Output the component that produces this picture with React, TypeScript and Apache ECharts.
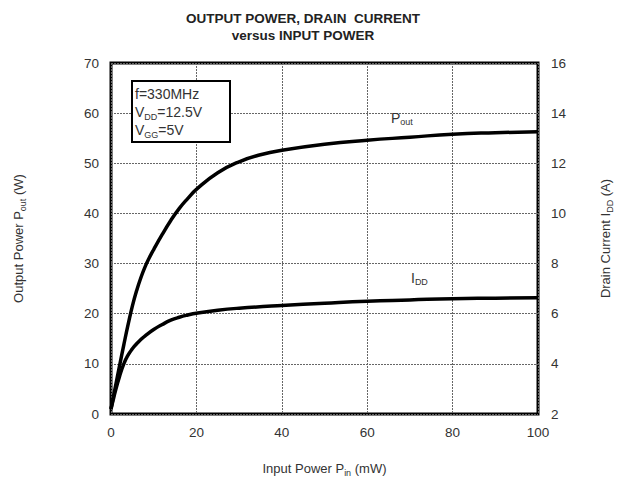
import React, { useEffect, useRef } from "react";
import * as echarts from "echarts";

const pinMW = [0, 1, 2, 3, 4, 5, 6, 7, 8, 9, 10, 12, 14, 16, 18, 20, 25, 30, 35, 40, 50, 60, 70, 80, 90, 100];
const poutW = [1, 5.3, 9.6, 13.8, 17.8, 21.5, 24.6, 27.2, 29.4, 31.2, 32.8, 35.8, 38.6, 41, 43, 44.8, 48.1, 50.3, 51.7, 52.6, 53.8, 54.6, 55.2, 55.8, 56.1, 56.3];
const iddPin = [0, 0.5, 1, 2, 3, 4, 5, 6, 7, 8, 10, 12, 14, 16, 18, 20, 25, 30, 40, 50, 60, 70, 80, 90, 100];
const iddA = [2.2, 2.55, 2.9, 3.5, 4.0, 4.35, 4.6, 4.8, 4.97, 5.12, 5.37, 5.57, 5.74, 5.86, 5.95, 6.02, 6.14, 6.22, 6.33, 6.42, 6.5, 6.55, 6.6, 6.62, 6.64];

const titleLines = ["OUTPUT POWER, DRAIN  CURRENT", "versus INPUT POWER"];
const FONT = "'Liberation Sans', Arial, sans-serif";
const TXT = "#333";

export default function App() {
  const ref = useRef<HTMLDivElement>(null);
  useEffect(() => {
    if (!ref.current) return;
    const chart = echarts.init(ref.current, null, { renderer: "svg", width: 620, height: 479 });
    const subV = { fontSize: 9, fontFamily: FONT, color: TXT, verticalAlign: "bottom", lineHeight: 18 } as any;
    chart.setOption({
      animation: false,
      backgroundColor: "#fff",
      textStyle: { fontFamily: FONT },
      title: {
        text: titleLines.join("\n"),
        left: 298,
        top: 5,
        textAlign: "center",
        textStyle: { fontSize: 13.5, fontWeight: "bold", color: "#222", lineHeight: 17, fontFamily: FONT },
      },
      grid: {
        left: 111,
        right: 82,
        top: 63,
        bottom: 65,
        show: true,
        borderColor: "#000",
        borderWidth: 3,
        containLabel: false,
        outerBoundsMode: "none",
      } as any,
      xAxis: {
        type: "value",
        min: 0,
        max: 100,
        interval: 20,
        name: "Input Power P{s|in} (mW)",
        nameLocation: "middle",
        nameGap: 45,
        nameTextStyle: { fontSize: 13, color: TXT, fontFamily: FONT, rich: { s: subV } },
        axisLine: { show: false },
        axisTick: { show: false },
        axisLabel: { fontSize: 13.5, color: TXT, margin: 11, fontFamily: FONT },
        splitLine: { show: true, lineStyle: { color: "#666", type: [2, 1], width: 1 } },
      },
      yAxis: [
        {
          type: "value",
          min: 0,
          max: 70,
          interval: 10,
          name: "Output Power P{s|out} (W)",
          nameLocation: "middle",
          nameGap: 84,
          nameTextStyle: { fontSize: 13, color: TXT, fontFamily: FONT, rich: { s: subV } },
          axisLine: { show: false },
          axisTick: { show: false },
          axisLabel: { fontSize: 13.5, color: TXT, margin: 12, fontFamily: FONT },
          splitLine: { show: true, lineStyle: { color: "#666", type: [2, 1], width: 1 } },
        },
        {
          type: "value",
          min: 2,
          max: 16,
          interval: 2,
          position: "right",
          name: "Drain Current I{s|DD} (A)",
          nameLocation: "middle",
          nameGap: 58,
          nameTextStyle: { fontSize: 13, color: TXT, fontFamily: FONT, rich: { s: subV } },
          axisLine: { show: false },
          axisTick: { show: false },
          axisLabel: { fontSize: 13.5, color: TXT, margin: 13, fontFamily: FONT },
          splitLine: { show: false },
        },
      ],
      series: [
        {
          type: "line",
          name: "Pout",
          yAxisIndex: 0,
          data: pinMW.map((x, i) => [x, poutW[i]]),
          smooth: 0.5,
          showSymbol: false,
          lineStyle: { color: "#000", width: 3.5 },
        },
        {
          type: "line",
          name: "IDD",
          yAxisIndex: 1,
          data: iddPin.map((x, i) => [x, iddA[i]]),
          smooth: 0.5,
          showSymbol: false,
          lineStyle: { color: "#000", width: 3.5 },
        },
      ],
      graphic: [
        { type: "rect", shape: { x: 132, y: 81, width: 98, height: 61 }, style: { fill: "#fff", stroke: "#000", lineWidth: 2 }, z: 10 },
        {
          type: "text",
          left: 135,
          top: 85,
          z: 11,
          style: {
            text: "f=330MHz\nV{s|DD}=12.5V\nV{s|GG}=5V",
            fontSize: 14,
            fontFamily: FONT,
            fill: TXT,
            lineHeight: 18,
            rich: { s: { fontSize: 9, fontFamily: FONT, fill: TXT, verticalAlign: "bottom", lineHeight: 14 } },
          } as any,
        },
        {
          type: "text",
          left: 391,
          top: 110,
          z: 11,
          style: {
            text: "P{s|out}",
            fontSize: 14,
            fontFamily: FONT,
            fill: TXT,
            lineHeight: 16,
            rich: { s: { fontSize: 9, fontFamily: FONT, fill: TXT, verticalAlign: "bottom", lineHeight: 12 } },
          } as any,
        },
        {
          type: "text",
          left: 411,
          top: 270,
          z: 11,
          style: {
            text: "I{s|DD}",
            fontSize: 14,
            fontFamily: FONT,
            fill: TXT,
            lineHeight: 16,
            rich: { s: { fontSize: 9, fontFamily: FONT, fill: TXT, verticalAlign: "bottom", lineHeight: 12 } },
          } as any,
        },
      ],
    });
    return () => chart.dispose();
  }, []);
  return <div ref={ref} style={{ position: "fixed", left: 0, top: 0, width: 620, height: 479 }} />;
}
